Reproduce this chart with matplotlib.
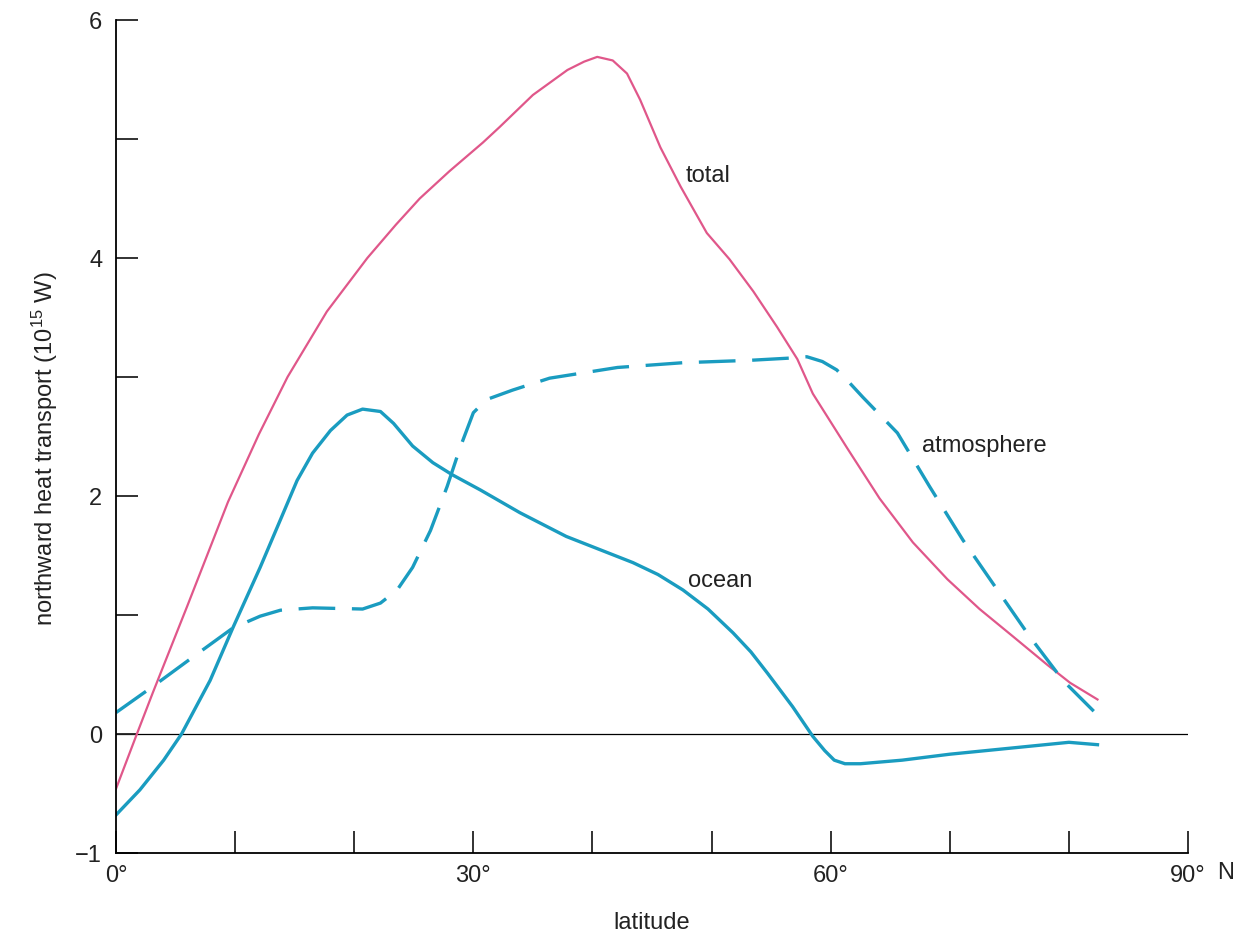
import matplotlib.pyplot as plt

plt.rcParams['font.family'] = ['Liberation Sans Narrow', 'Liberation Sans', 'DejaVu Sans']
plt.rcParams['mathtext.default'] = 'regular'

# total heat transport (pink)
total_lat = [0, 1.75, 3.1, 6.0, 9.4, 12.0, 14.4, 17.7, 21.1, 23.5, 25.5, 28.0, 30.8, 32.2, 35.0,
             37.9, 39.3, 40.4, 41.7, 42.9, 44.0, 45.7, 47.4, 49.6, 51.5, 53.5, 55.5, 57.2, 58.5,
             61.4, 64.1, 66.9, 69.8, 72.5, 75.3, 78.2, 80.1, 82.4]
total_val = [-0.46, 0, 0.35, 1.08, 1.95, 2.52, 3.0, 3.55, 4.0, 4.28, 4.50, 4.73, 4.97, 5.10, 5.37,
             5.58, 5.65, 5.69, 5.66, 5.55, 5.33, 4.93, 4.60, 4.21, 3.99, 3.72, 3.42, 3.15, 2.86,
             2.40, 1.98, 1.61, 1.30, 1.05, 0.82, 0.58, 0.43, 0.29]

# ocean (solid teal)
ocean_lat = [0, 2, 4, 5.5, 7.9, 9.8, 12.1, 13.8, 15.2, 16.5, 18.0, 19.4, 20.7, 22.2, 23.3,
             24.9, 26.6, 28.2, 30.6, 33.9, 37.8, 43.4, 45.5, 47.6, 49.7, 51.8, 53.3, 54.7,
             56.8, 58.5, 59.5, 60.3, 61.2, 62.5, 66, 70, 74, 78, 80, 82.4]
ocean_val = [-0.68, -0.47, -0.22, 0, 0.45, 0.89, 1.40, 1.80, 2.13, 2.36, 2.55, 2.68, 2.73, 2.71, 2.61,
             2.42, 2.28, 2.18, 2.05, 1.86, 1.66, 1.44, 1.34, 1.21, 1.05, 0.85, 0.69, 0.51,
             0.23, -0.02, -0.14, -0.22, -0.25, -0.25, -0.22, -0.17, -0.13, -0.09, -0.07, -0.09]

# atmosphere (dashed teal)
atm_lat = [0, 3.1, 6.5, 9.8, 12.1, 13.8, 16.5, 20.7, 22.2, 23.6, 24.9, 26.4, 27.8, 28.9, 30.0,
           31.1, 33.3, 36.4, 42.1, 47.6, 53.2, 56.8, 58.0, 59.3, 60.5, 61.5, 62.7, 65.6, 68.3,
           71.1, 74.0, 76.7, 79.5, 82.4]
atm_val = [0.18, 0.40, 0.65, 0.89, 0.99, 1.04, 1.06, 1.05, 1.10, 1.21, 1.40, 1.71, 2.08, 2.41, 2.70,
           2.81, 2.89, 2.99, 3.08, 3.12, 3.14, 3.16, 3.17, 3.13, 3.06, 2.96, 2.83, 2.53, 2.08,
           1.63, 1.21, 0.82, 0.45, 0.16]

xticks = [0, 10, 20, 30, 40, 50, 60, 70, 80, 90]
xticklabels = ['0°', '', '', '30°', '', '', '60°', '', '', '90°']
yticks = [-1, 0, 1, 2, 3, 4, 5, 6]
yticklabels = ['−1', '0', '', '2', '', '4', '', '6']

PINK = '#e0578a'
TEAL = '#1a9cc0'
TXT = '#222222'

fig = plt.figure(figsize=(12.37, 9.37), dpi=100)
ax = fig.add_axes([0.0938, 0.0886, 0.8666, 0.889])

ax.axhline(0, color='black', lw=0.9, zorder=1)
ax.plot(total_lat, total_val, color=PINK, lw=1.6, solid_joinstyle='round')
ax.plot(ocean_lat, ocean_val, color=TEAL, lw=2.4, solid_joinstyle='round')
ax.plot(atm_lat, atm_val, color=TEAL, lw=2.4, dashes=(11, 5), dash_joinstyle='round')

ax.set_xlim(0, 90)
ax.set_ylim(-1, 6)
ax.spines['top'].set_visible(False)
ax.spines['right'].set_visible(False)
for s in ('left', 'bottom'):
    ax.spines[s].set_linewidth(1.3)

ax.set_xticks(xticks)
ax.set_xticklabels(xticklabels)
ax.set_yticks(yticks)
ax.set_yticklabels(yticklabels)
ax.tick_params(direction='in', length=16, width=1.3, labelsize=17, colors=TXT)
ax.tick_params(axis='x', pad=8)
ax.tick_params(axis='y', pad=10)
# "N" after the 90° tick label
ax.annotate('N', xy=(90, -1), xytext=(21, -14), textcoords='offset points',
            ha='left', va='center', fontsize=17, color=TXT)

ax.set_xlabel('latitude', fontsize=17, labelpad=18, color=TXT)
ax.set_ylabel('northward heat transport (10$^{15}$ W)', fontsize=17, labelpad=11, color=TXT)
ax.yaxis.label.set_y(0.487)

ax.text(47.8, 4.70, 'total', fontsize=17, va='center', color=TXT)
ax.text(67.7, 2.43, 'atmosphere', fontsize=17, va='center', color=TXT)
ax.text(48.0, 1.29, 'ocean', fontsize=17, va='center', color=TXT)

fig.savefig('out.png', dpi=100)
